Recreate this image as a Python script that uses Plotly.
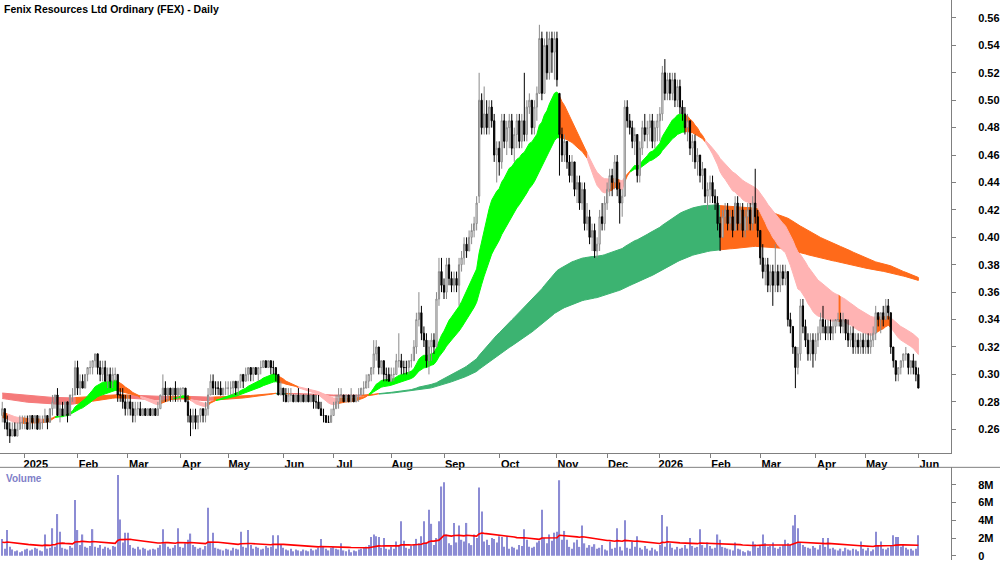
import numpy as np
import plotly.graph_objects as go

# ---------------- axis labels ----------------
MONTH_TICKS = [9, 30, 50, 71, 90, 112, 132, 155, 176, 198, 221, 241, 262, 282, 302, 324, 344, 365]
MONTH_LABELS = ["2025", "Feb", "Mar", "Apr", "May", "Jun", "Jul", "Aug", "Sep", "Oct",
                "Nov", "Dec", "2026", "Feb", "Mar", "Apr", "May", "Jun"]
PRICE_TICKS = [0.26, 0.28, 0.30, 0.32, 0.34, 0.36, 0.38, 0.40, 0.42, 0.44, 0.46, 0.48, 0.50, 0.52, 0.54, 0.56]
PRICE_LABELS = ["%.2f" % v for v in PRICE_TICKS]
VOL_TICKS = [0, 2, 4, 6, 8]
VOL_LABELS = ["0", "2M", "4M", "6M", "8M"]

# ---------------- daily prices (tenths of a cent) ----------------
OPEN = [
    270, 275, 265, 260, 255, 260, 255, 260, 265,
    265, 265, 260, 270, 265, 270, 260, 265, 265, 270, 265, 275, 280, 285, 270, 275, 270, 280, 270, 285, 285,
    305, 290, 295, 290, 300, 305, 305, 310, 315, 305, 300, 305, 295, 300, 295, 300, 300, 285, 285, 280,
    275, 280, 275, 270, 275, 275, 270, 275, 270, 275, 270, 275, 270, 275, 285, 290, 285, 290, 285, 290, 285,
    285, 290, 290, 280, 270, 265, 270, 265, 270, 275, 270, 275, 285, 295, 290, 290, 290, 285, 290,
    290, 290, 290, 295, 290, 295, 300, 295, 300, 305, 300, 305, 300, 305, 305, 310, 305, 310, 305, 305, 300, 285,
    290, 285, 280, 285, 285, 280, 285, 280, 285, 280, 285, 280, 285, 280, 280, 275, 270, 270, 265, 265,
    270, 275, 280, 285, 285, 280, 285, 280, 285, 280, 285, 285, 290, 290, 295, 300, 305, 315, 320, 305, 310, 300, 300,
    295, 300, 300, 310, 310, 305, 305, 305, 310, 310, 320, 340, 345, 330, 325, 310, 320, 325, 320, 355, 375,
    365, 360, 380, 370, 365, 370, 365, 380, 385, 395, 390, 400, 405, 410, 430, 500, 480, 490, 480, 495, 485, 460,
    465, 455, 485, 470, 480, 485, 465, 475, 485, 470, 485, 475, 495, 500, 480, 495, 505, 545, 505, 540, 520, 545, 535,
    545, 505, 475, 460, 470, 455, 445, 455, 435, 440, 425, 435, 410, 415, 400, 405, 390, 395, 415, 410,
    425, 435, 445, 440, 455, 435, 425, 430, 495, 485, 480, 470, 475, 445, 465, 480, 475, 480, 485, 470, 480,
    485, 490, 520, 505, 515, 505, 515, 500, 510, 495, 490, 480, 485, 465, 470, 455, 460, 445, 450, 430,
    435, 440, 430, 425, 410, 400, 415, 420, 410, 415, 405, 425, 410, 420, 405, 415, 420, 410, 425, 415,
    405, 385, 375, 380, 365, 375, 365, 375, 365, 375, 370, 375, 340, 335, 320, 305, 315, 350, 335, 325, 315, 325,
    315, 325, 330, 340, 335, 330, 335, 330, 335, 340, 340, 335, 340, 330, 325, 330, 320, 325, 320, 325,
    320, 325, 320, 325, 330, 345, 340, 345, 340, 350, 345, 320, 310, 300, 305, 310, 315, 315, 305, 310, 305, 300,
]
HIGH = [
    280, 275, 270, 265, 265, 265, 265, 270, 270,
    270, 270, 270, 270, 270, 270, 270, 270, 275, 270, 275, 285, 285, 290, 280, 280, 280, 280, 285, 290, 310,
    310, 300, 300, 300, 305, 310, 310, 315, 315, 310, 310, 310, 305, 305, 305, 305, 300, 290, 290, 285,
    285, 285, 280, 280, 280, 280, 275, 275, 275, 275, 275, 275, 280, 285, 300, 295, 290, 290, 290, 295, 290,
    290, 290, 290, 285, 275, 275, 275, 270, 275, 275, 280, 290, 300, 300, 295, 295, 295, 290, 295,
    295, 295, 295, 295, 295, 300, 300, 305, 305, 305, 305, 305, 305, 310, 310, 310, 310, 310, 310, 305, 300, 295,
    290, 290, 290, 290, 285, 285, 290, 285, 285, 285, 290, 285, 285, 285, 285, 280, 275, 270, 270, 275,
    280, 285, 290, 290, 285, 285, 285, 290, 285, 285, 290, 290, 295, 300, 300, 305, 325, 325, 320, 310, 310, 305, 305,
    305, 305, 315, 330, 315, 310, 310, 310, 315, 325, 345, 360, 350, 335, 330, 325, 330, 330, 360, 385, 385,
    370, 385, 385, 375, 375, 375, 385, 390, 400, 400, 405, 410, 415, 430, 520, 505, 510, 500, 500, 500, 490, 470,
    470, 490, 490, 485, 490, 490, 480, 490, 490, 490, 520, 500, 505, 500, 500, 510, 555, 550, 545, 550, 550, 550, 550,
    550, 505, 480, 475, 470, 460, 460, 455, 445, 445, 440, 440, 425, 420, 410, 410, 400, 420, 425, 430,
    440, 450, 450, 460, 460, 440, 435, 500, 500, 490, 485, 480, 475, 470, 485, 490, 485, 490, 490, 485, 490,
    495, 525, 530, 520, 520, 520, 520, 515, 515, 500, 495, 490, 485, 475, 475, 465, 460, 455, 450, 440,
    445, 445, 435, 430, 415, 420, 425, 425, 420, 420, 430, 430, 425, 425, 420, 425, 425, 430, 450, 420,
    405, 395, 385, 385, 380, 380, 395, 380, 380, 380, 380, 375, 345, 335, 320, 320, 355, 355, 340, 330, 330, 330,
    330, 335, 345, 350, 340, 340, 340, 340, 340, 345, 345, 345, 340, 340, 335, 335, 330, 330, 330, 330,
    330, 330, 330, 335, 350, 345, 345, 350, 355, 355, 345, 320, 310, 305, 310, 315, 320, 315, 310, 315, 310, 305,
]
LOW = [
    265, 260, 255, 250, 255, 255, 255, 260, 260,
    260, 260, 260, 260, 260, 260, 260, 260, 265, 260, 265, 270, 275, 270, 265, 270, 270, 265, 270, 280, 285,
    285, 285, 290, 290, 295, 300, 300, 305, 300, 295, 295, 295, 290, 290, 290, 295, 280, 280, 275, 270,
    270, 270, 265, 265, 270, 270, 270, 270, 270, 270, 270, 270, 270, 275, 280, 280, 280, 280, 280, 280, 280,
    280, 285, 280, 265, 255, 260, 260, 260, 265, 265, 265, 270, 285, 285, 285, 285, 285, 285, 285,
    285, 285, 285, 285, 285, 290, 290, 295, 295, 295, 295, 300, 295, 300, 305, 305, 305, 300, 300, 295, 285, 285,
    280, 280, 280, 280, 280, 280, 280, 280, 280, 280, 280, 280, 275, 275, 275, 270, 265, 265, 265, 265,
    270, 275, 275, 280, 280, 280, 280, 280, 280, 280, 280, 285, 285, 290, 290, 295, 300, 310, 300, 300, 295, 295, 295,
    295, 295, 300, 305, 300, 300, 300, 300, 305, 310, 315, 335, 325, 320, 305, 300, 310, 315, 320, 350, 360,
    355, 355, 365, 360, 360, 360, 350, 375, 380, 385, 390, 395, 400, 405, 425, 475, 475, 475, 475, 480, 455, 440,
    445, 450, 465, 460, 465, 460, 455, 465, 465, 465, 470, 470, 490, 475, 475, 485, 505, 500, 505, 515, 515, 520, 515,
    510, 445, 455, 455, 450, 440, 440, 430, 425, 420, 420, 405, 405, 395, 390, 385, 385, 390, 405, 405,
    420, 430, 430, 435, 430, 410, 415, 430, 480, 475, 465, 460, 440, 440, 460, 470, 465, 470, 465, 465, 470,
    470, 485, 500, 500, 500, 500, 495, 495, 490, 485, 475, 470, 460, 455, 450, 445, 440, 435, 425, 420,
    425, 425, 420, 405, 390, 400, 410, 405, 405, 400, 405, 405, 405, 400, 400, 405, 405, 405, 410, 400,
    380, 370, 365, 360, 360, 350, 360, 360, 360, 365, 365, 335, 330, 315, 290, 300, 310, 330, 320, 310, 310, 305,
    310, 320, 325, 330, 325, 325, 325, 325, 330, 335, 330, 330, 325, 320, 320, 315, 315, 315, 315, 315,
    315, 315, 315, 320, 325, 335, 330, 335, 340, 340, 315, 305, 295, 295, 300, 305, 310, 300, 300, 300, 295, 290,
]
CLOSE = [
    275, 265, 260, 255, 260, 255, 260, 265, 265,
    265, 260, 270, 265, 270, 260, 265, 265, 270, 265, 275, 280, 285, 270, 275, 270, 280, 270, 285, 285, 305,
    290, 295, 290, 300, 305, 305, 310, 315, 305, 300, 305, 295, 300, 295, 300, 300, 285, 285, 280, 275,
    280, 275, 270, 275, 275, 270, 275, 270, 275, 270, 275, 270, 275, 285, 290, 285, 290, 285, 290, 285, 290,
    290, 290, 280, 270, 265, 270, 265, 270, 275, 270, 275, 285, 295, 290, 290, 290, 285, 290, 290,
    290, 290, 295, 290, 295, 300, 295, 300, 305, 300, 305, 300, 305, 305, 310, 305, 310, 305, 305, 300, 285, 290,
    285, 280, 285, 285, 280, 285, 280, 285, 280, 285, 280, 285, 280, 280, 275, 270, 270, 265, 265, 270,
    275, 280, 285, 285, 280, 285, 280, 285, 280, 285, 285, 290, 290, 295, 300, 305, 315, 320, 305, 310, 300, 300, 295,
    300, 300, 310, 310, 305, 305, 305, 310, 310, 320, 340, 345, 330, 325, 310, 320, 325, 320, 355, 375, 365,
    360, 380, 370, 365, 370, 365, 380, 385, 395, 390, 400, 405, 410, 425, 500, 480, 490, 480, 495, 485, 460, 465,
    455, 485, 470, 480, 485, 465, 475, 485, 470, 485, 475, 495, 500, 480, 495, 505, 545, 505, 540, 520, 545, 535, 545,
    515, 475, 460, 470, 455, 445, 455, 435, 440, 425, 435, 410, 415, 400, 405, 390, 395, 415, 410, 425,
    435, 445, 440, 455, 435, 425, 430, 495, 485, 480, 470, 475, 445, 465, 480, 475, 480, 485, 470, 480, 485,
    490, 520, 505, 515, 505, 515, 500, 510, 495, 490, 480, 485, 465, 470, 455, 460, 445, 450, 430, 435,
    440, 430, 425, 410, 400, 415, 420, 410, 415, 405, 425, 410, 420, 405, 415, 420, 410, 425, 415, 405,
    385, 375, 380, 365, 375, 365, 375, 365, 375, 370, 375, 340, 335, 320, 305, 315, 350, 335, 325, 315, 325, 315,
    325, 330, 340, 335, 330, 335, 330, 335, 340, 340, 335, 340, 330, 325, 330, 320, 325, 320, 325, 320,
    325, 320, 325, 330, 345, 340, 345, 340, 350, 345, 320, 310, 300, 305, 310, 315, 315, 305, 310, 305, 300, 290,
]
# daily volume (hundred-thousands of shares)
VOLUME = [
    19, 8, 29, 10, 7, 5, 6, 4, 5,
    7, 8, 6, 7, 9, 8, 6, 5, 24, 8, 9, 31, 10, 47, 27, 9, 8, 7, 11, 9, 63,
    29, 12, 24, 10, 9, 11, 30, 10, 9, 12, 8, 10, 9, 7, 11, 10, 91, 41, 15, 26,
    26, 12, 9, 8, 10, 7, 9, 8, 6, 7, 8, 7, 9, 12, 30, 14, 10, 8, 9, 12, 31,
    10, 9, 14, 18, 25, 12, 10, 8, 9, 7, 11, 54, 15, 26, 9, 8, 7, 6, 8,
    7, 6, 9, 8, 7, 27, 10, 9, 29, 12, 8, 10, 9, 7, 8, 11, 9, 10, 23, 8, 23, 12,
    9, 7, 6, 8, 5, 7, 6, 5, 7, 6, 5, 8, 6, 7, 9, 19, 10, 8, 6, 9,
    10, 8, 7, 14, 6, 5, 7, 4, 6, 5, 7, 8, 9, 10, 12, 21, 24, 22, 21, 9, 20, 8, 7,
    10, 8, 16, 12, 39, 17, 9, 8, 11, 13, 19, 14, 22, 39, 15, 52, 36, 12, 20, 39, 78,
    83, 24, 14, 12, 37, 15, 34, 18, 16, 37, 14, 12, 24, 20, 77, 50, 16, 18, 12, 20, 19, 15,
    22, 21, 10, 22, 8, 10, 9, 7, 12, 11, 30, 18, 10, 9, 10, 15, 17, 52, 20, 14, 24, 17, 26,
    27, 85, 18, 28, 18, 10, 8, 15, 18, 10, 34, 14, 9, 12, 10, 13, 8, 9, 12, 7,
    6, 16, 8, 9, 31, 10, 6, 40, 9, 8, 16, 10, 22, 9, 7, 11, 8, 6, 9, 7, 5,
    12, 46, 10, 33, 14, 9, 7, 10, 8, 9, 12, 8, 20, 11, 9, 10, 30, 12, 9, 15,
    11, 8, 9, 24, 18, 10, 9, 8, 7, 6, 15, 8, 7, 5, 4, 6, 5, 16, 13, 9,
    12, 24, 14, 10, 11, 15, 9, 8, 10, 12, 18, 14, 12, 34, 46, 31, 15, 12, 10, 9, 8, 11,
    9, 7, 12, 20, 10, 20, 8, 9, 7, 6, 8, 5, 9, 7, 6, 8, 7, 5, 16, 8,
    6, 9, 5, 7, 27, 12, 16, 8, 7, 9, 12, 23, 21, 21, 10, 12, 9, 7, 8, 6, 8, 23,
]

# moving-average ribbon settings (short and long groups) and starting levels
SHORT_PERIODS = [20, 23, 26, 30, 35, 40]
SHORT_START = [0.268, 0.2685, 0.269, 0.270, 0.271, 0.272]
SHORT_SLOPE_LAG = 2
LONG_PERIODS = [150, 170, 190, 210, 230, 250]
LONG_START = [0.2825, 0.283, 0.284, 0.285, 0.2858, 0.2865]
LONG_SLOPE_LAG = 6
VOL_MA_PERIOD = 45
VOL_MA_START = 1.5

o = np.array(OPEN) / 1000.0
h = np.array(HIGH) / 1000.0
l = np.array(LOW) / 1000.0
c = np.array(CLOSE) / 1000.0
vol = np.array(VOLUME) / 10.0
n = len(c)
x = np.arange(n)


def ema(series, period, start):
    a = 2.0 / (period + 1)
    out = []
    v = start
    for p in series:
        v = v + a * (p - v)
        out.append(v)
    return np.array(out)


def ribbon_traces(periods, starts, lag, colors, yaxis):
    E = np.array([ema(c, p, s) for p, s in zip(periods, starts)])
    fast, slow = E[0], E[-1]
    prev_fast = np.concatenate([[starts[0]] * lag, fast[:-lag]])
    rising = fast >= prev_fast
    above = fast > slow
    # 0: rising & fast above slow, 2: falling & fast below slow, 1: mixed
    st = np.where(rising & above, 0, np.where(~rising & ~above, 2, 1))
    up = E.max(axis=0)
    lo = E.min(axis=0)
    traces = []
    for k, col in enumerate(colors):
        xs, ys = [], []
        i = 0
        while i < n:
            if st[i] == k:
                j = i
                while j + 1 < n and st[j + 1] == k:
                    j += 1
                e = min(j + 1, n - 1)
                seg = list(range(i, e + 1))
                xs += [int(x[s]) for s in seg] + [int(x[s]) for s in seg[::-1]] + [None]
                ys += [float(up[s]) for s in seg] + [float(lo[s]) for s in seg[::-1]] + [None]
                i = j + 1
            else:
                i += 1
        if xs:
            traces.append(go.Scatter(x=xs, y=ys, mode="lines", fill="toself", fillcolor=col,
                                     line=dict(width=1, color=col), hoverinfo="skip",
                                     showlegend=False, xaxis="x", yaxis=yaxis))
    return traces


fig = go.Figure()
for t in ribbon_traces(LONG_PERIODS, LONG_START, LONG_SLOPE_LAG, ["#3CB371", "#FF6A1A", "#F57A7A"], "y"):
    fig.add_trace(t)
for t in ribbon_traces(SHORT_PERIODS, SHORT_START, SHORT_SLOPE_LAG, ["#00FF00", "#FF6A1A", "#FFB3B3"], "y"):
    fig.add_trace(t)

fig.add_trace(go.Candlestick(
    x=x, open=o, high=h, low=l, close=c, xaxis="x", yaxis="y3",
    increasing=dict(line=dict(color="#8a8a8a", width=1), fillcolor="#ffffff"),
    decreasing=dict(line=dict(color="#000000", width=1), fillcolor="#000000"),
    whiskerwidth=0, showlegend=False, hoverinfo="skip"))

vol_ma = ema(vol, VOL_MA_PERIOD, VOL_MA_START)
fig.add_trace(go.Bar(x=x, y=vol, width=0.5, marker=dict(color="#8C8CD4", line=dict(width=0)),
                     xaxis="x2", yaxis="y2", showlegend=False, hoverinfo="skip"))
fig.add_trace(go.Scatter(x=x, y=vol_ma, mode="lines", line=dict(color="#FF0000", width=1.6),
                         xaxis="x2", yaxis="y2", showlegend=False, hoverinfo="skip"))

FONT = "Liberation Sans, Arial, sans-serif"
PRICE_RANGE = [0.2424, 0.5731]
PRICE_DOMAIN = [1 - 455 / 562, 1]
VOL_DOMAIN = [0, 1 - 469 / 562]
X_RANGE = [-0.9, 378]

fig.update_layout(
    width=1000, height=562,
    margin=dict(l=0, r=49, t=0, b=0),
    paper_bgcolor="white", plot_bgcolor="white",
    showlegend=False,
    xaxis=dict(domain=[0, 1], range=X_RANGE, anchor="y", showgrid=False, zeroline=False,
               showline=True, linecolor="#808080", linewidth=1,
               ticks="outside", ticklen=4, tickcolor="#808080",
               tickvals=MONTH_TICKS, ticktext=MONTH_LABELS, ticklabelshift=11,
               ticklabelstandoff=-4,
               tickfont=dict(family=FONT, size=11, color="#000000", weight="bold"),
               rangeslider=dict(visible=False)),
    yaxis=dict(domain=PRICE_DOMAIN, range=PRICE_RANGE, side="right", anchor="x",
               showgrid=False, zeroline=False, showline=True, linecolor="#808080", linewidth=1,
               ticks="outside", ticklen=4, tickcolor="#808080",
               tickvals=PRICE_TICKS, ticktext=PRICE_LABELS, ticklabelstandoff=20,
               tickfont=dict(family=FONT, size=11, color="#000000", weight="bold")),
    yaxis3=dict(domain=PRICE_DOMAIN, range=PRICE_RANGE, overlaying="y", anchor="x",
                visible=False, showgrid=False, zeroline=False),
    xaxis2=dict(domain=[0, 1], range=X_RANGE, anchor="y2", matches="x", showgrid=False,
                zeroline=False, showline=False, showticklabels=False, ticks=""),
    yaxis2=dict(domain=VOL_DOMAIN, range=[-0.48, 9.97], side="right", anchor="x2",
                showgrid=False, zeroline=False, showline=True, linecolor="#808080", linewidth=1,
                ticks="outside", ticklen=4, tickcolor="#808080",
                tickvals=VOL_TICKS, ticktext=VOL_LABELS, ticklabelstandoff=20,
                ticklabeloverflow="allow",
                tickfont=dict(family=FONT, size=11, color="#000000", weight="bold")),
    shapes=[dict(type="line", xref="paper", yref="paper", x0=0, x1=1000 / 951,
                 y0=VOL_DOMAIN[1], y1=VOL_DOMAIN[1], line=dict(color="#808080", width=1))],
    annotations=[
        dict(text="Fenix Resources Ltd Ordinary (FEX) - Daily", xref="paper", yref="paper",
             x=0.002, y=0.998, xanchor="left", yanchor="top", showarrow=False,
             font=dict(family=FONT, size=10.5, color="#000000", weight="bold")),
        dict(text="Volume", xref="paper", yref="paper", x=0.004, y=VOL_DOMAIN[1] - 0.006,
             xanchor="left", yanchor="top", showarrow=False,
             font=dict(family=FONT, size=10, color="#8080C8", weight="bold")),
    ],
)

fig.write_html("out.html")
